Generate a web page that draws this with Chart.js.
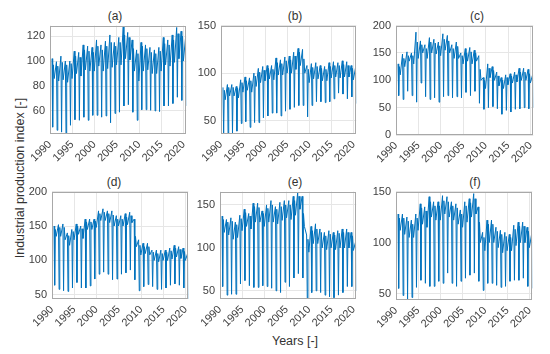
<!DOCTYPE html>
<html>
<head>
<meta charset="utf-8">
<script src="https://cdn.jsdelivr.net/npm/chart.js@4.4.1/dist/chart.umd.min.js"></script>
<style>
  body { margin: 0; background: #fff; width: 550px; height: 354px; position: relative; overflow: hidden;
         font-family: "Liberation Sans", Arial, sans-serif; color: #333; }
  canvas { position: absolute; }
  .lbl { position: absolute; white-space: nowrap; transform: translate(-50%, -50%); }
</style>
</head>
<body>

<div class="lbl" style="left:115px;top:16px;font-size:12px">(a)</div>
<div class="lbl" style="left:295px;top:16px;font-size:12px">(b)</div>
<div class="lbl" style="left:477px;top:16px;font-size:12px">(c)</div>
<div class="lbl" style="left:114px;top:182px;font-size:12px">(d)</div>
<div class="lbl" style="left:295px;top:182px;font-size:12px">(e)</div>
<div class="lbl" style="left:475px;top:182px;font-size:12px">(f)</div>
<div class="lbl" style="left:20px;top:178px;font-size:12.5px;transform:translate(-50%,-50%) rotate(-90deg)">Industrial production index [-]</div>
<div class="lbl" style="left:295px;top:341px;font-size:12.5px">Years [-]</div>

<canvas id="pa"></canvas>
<canvas id="pb"></canvas>
<canvas id="pc"></canvas>
<canvas id="pd"></canvas>
<canvas id="pe"></canvas>
<canvas id="pf"></canvas>

<script>
// years 1990..2020, per year: spring peak, august low, autumn level, december dip
const years = [1990,1991,1992,1993,1994,1995,1996,1997,1998,1999,2000,2001,2002,2003,2004,2005,
               2006,2007,2008,2009,2010,2011,2012,2013,2014,2015,2016,2017,2018,2019,2020];
const monthPos = [0.45, 0.6, 0.75, 0.95];
const yearTicks = [1990, 1995, 2000, 2005, 2010, 2015, 2020];

// (a)
const aPeak = [102,99.5,104,100,100,108,107,113,112,111,117,113,116,121,115,119,128,123,117,109,115,113,111,109,111,119,117,121,127,124,119];
const aLow  = [47,44.5,43,41.5,48.5,53,52.5,55,52.5,56.5,56.5,55,56,50.5,58,59,64,65,59,52.5,61,61,60.5,60,59.5,64,64,66,71,68.5,64];
const aAut  = [97,96,99,97,98,104,103,109,108,107,112,109,112,115,112,115,121,119,110,106,112,110,107,106,108,114,113,117,122,120,115];
const aDec  = [86,84,85,83,86,90,88,93,92,92,96,92,94,95,97,97,102,101,92,84,92,93,90,90,92,97,96,99,102,100,90];
// (b)
const bPeak = [85,88,88,86,93,96,95,100,105,107,108,108,116,114,117,118,122,126,125,108,110,111,108,107,111,112,111,113,112,108,106];
const bLow  = [37,37,37,39,47,49,43,48,48,53,55,58,58,55,60,62,64,66,66,54,66,70,70,69,70,73,79,78,73,75,68];
const bAut  = [82,85,85,84,90,92,92,97,101,103,105,104,111,110,113,114,118,122,115,104,106,107,105,104,107,108,108,109,108,105,100];
const bDec  = [72,76,76,74,80,82,80,86,90,92,94,93,98,98,100,100,104,108,100,90,94,94,92,92,95,96,95,96,96,93,88];
// (c)
const cPeak = [130,148,152,150,188,172,165,178,175,170,185,182,165,170,150,158,160,155,145,105,130,125,115,105,110,112,115,122,122,120,110];
const cLow  = [72,65,80,72,60,95,70,65,68,60,70,72,68,70,68,78,72,80,58,47,50,52,48,38,45,42,47,48,50,48,50];
const cAut  = [125,140,145,145,170,165,158,170,168,163,175,172,158,162,145,150,152,150,120,100,122,118,108,100,105,108,110,115,115,112,100];
const cDec  = [110,125,135,130,140,150,140,150,148,145,155,150,140,140,130,135,130,135,100,85,105,100,90,85,92,95,97,100,100,95,75];
// (d)
const dPeak = [150,152,153,140,145,153,150,160,160,160,172,175,172,172,165,165,168,170,160,130,125,125,115,115,115,115,118,122,120,118,110];
const dLow  = [64,58,56,55,60,68,60,60,63,73,80,83,80,72,73,80,82,86,72,56,62,65,62,58,58,60,64,66,64,60,44];
const dAut  = [145,148,148,136,142,150,146,156,156,157,168,170,168,166,160,160,163,165,135,122,120,120,112,110,110,112,114,118,116,113,100];
const dDec  = [135,135,130,122,130,138,132,145,145,148,158,158,155,150,150,150,152,155,120,108,110,108,100,98,100,100,102,105,103,100,80];
// (e)
const ePeak = [137,133,135,130,138,145,140,152,152,143,150,155,148,153,155,155,160,165,160,115,125,128,122,118,120,118,120,122,122,118,107];
const eLow  = [55,45,46,46,58,62,56,54,54,56,55,53,50,48,60,55,65,70,65,40.5,48,50,48,45,43,42,45,48,55,55,50];
const eAut  = [133,130,131,127,134,141,137,148,147,140,146,150,145,148,150,150,155,160,140,110,120,122,118,114,116,115,117,118,118,114,100];
const eDec  = [118,115,110,112,120,125,122,130,130,125,130,130,128,132,135,133,138,145,125,95,105,105,100,98,100,98,100,100,100,97,80];
// (f)
const fPeak = [128,128,125,122,128,138,135,145,140,140,146,145,140,138,132,140,143,148,135,110,122,122,115,112,110,108,117,120,120,115,108];
const fLow  = [55,48,44,46,56,63,60,57,57,62,60,70,60,57,62,65,68,70,62,53,60,60,58,56,57,62,63,63,65,57,55];
const fAut  = [124,124,121,118,124,134,131,140,136,136,141,140,136,134,128,136,139,143,120,105,118,118,111,108,106,105,113,116,116,111,100];
const fDec  = [112,108,105,105,112,118,115,125,122,122,128,125,122,118,115,120,125,128,100,92,100,100,95,90,92,92,97,100,100,95,80];

const panels = [
  { id: 'pa', rect: [50, 24, 193, 134],    yMin: 41.5, yMax: 128.5, yTicks: [60, 80, 100, 120],      s: [aPeak, aLow, aAut, aDec] },
  { id: 'pb', rect: [221, 24, 363, 134],   yMin: 36,   yMax: 150,   yTicks: [50, 100, 150],          s: [bPeak, bLow, bAut, bDec] },
  { id: 'pc', rect: [396, 24, 540, 135],   yMin: 0,    yMax: 200,   yTicks: [0, 50, 100, 150, 200],  s: [cPeak, cLow, cAut, cDec] },
  { id: 'pd', rect: [52, 190, 195, 299.5], yMin: 44,   yMax: 200,   yTicks: [50, 100, 150, 200],     s: [dPeak, dLow, dAut, dDec] },
  { id: 'pe', rect: [220, 190, 363, 299],  yMin: 40.5, yMax: 165.5, yTicks: [50, 100, 150],          s: [ePeak, eLow, eAut, eDec] },
  { id: 'pf', rect: [396, 189.5, 539, 299.5], yMin: 43.6, yMax: 150, yTicks: [50, 100, 150],         s: [fPeak, fLow, fAut, fDec] },
];

const boxPlugin = {
  id: 'box',
  afterDraw(chart) {
    const { ctx, chartArea: a } = chart;
    ctx.save();
    ctx.strokeStyle = '#a8a8a8';
    ctx.lineWidth = 1;
    ctx.strokeRect(Math.round(a.left) + 0.5, Math.round(a.top) + 0.5,
                   Math.round(a.right - a.left) - 1, Math.round(a.bottom - a.top) - 1);
    ctx.restore();
  }
};

const tickFont = { family: '"Liberation Sans", Arial, sans-serif', size: 11 };

panels.forEach(p => {
  const [l, t, r, b] = p.rect;
  const yW = 50, padTop = 10, padRight = 4, xH = 40;
  const cv = document.getElementById(p.id);
  cv.width = (r - l) + yW + padRight;
  cv.height = (b - t) + padTop + xH;
  cv.style.left = (l - yW) + 'px';
  cv.style.top = (t - padTop) + 'px';

  const pts = [];
  years.forEach((yr, i) => {
    p.s.forEach((arr, k) => pts.push({ x: yr + monthPos[k], y: arr[i] }));
  });

  new Chart(cv.getContext('2d'), {
    type: 'line',
    data: {
      datasets: [{
        data: pts,
        borderColor: '#0072BD',
        borderWidth: 1,
        pointRadius: 0,
        tension: 0,
      }]
    },
    options: {
      responsive: false,
      animation: false,
      layout: { padding: { top: padTop, right: padRight, left: 0, bottom: 0 } },
      plugins: { legend: { display: false }, tooltip: { enabled: false } },
      scales: {
        x: {
          type: 'linear',
          min: 1990,
          max: 2020.6,
          afterBuildTicks: s => { s.ticks = yearTicks.map(v => ({ value: v })); },
          afterFit: s => { s.height = xH; },
          grid: { color: '#e6e6e6', drawTicks: false },
          border: { display: false },
          ticks: { autoSkip: false, minRotation: 45, maxRotation: 45, padding: 4,
                   color: '#404040', font: tickFont, callback: v => String(v) }
        },
        y: {
          min: p.yMin,
          max: p.yMax,
          afterBuildTicks: s => { s.ticks = p.yTicks.map(v => ({ value: v })); },
          afterFit: s => { s.width = yW; },
          grid: { color: '#e6e6e6', drawTicks: false },
          border: { display: false },
          ticks: { padding: 5, color: '#404040', font: tickFont, callback: v => String(v) }
        }
      }
    },
    plugins: [boxPlugin]
  });
});
</script>
</body>
</html>
